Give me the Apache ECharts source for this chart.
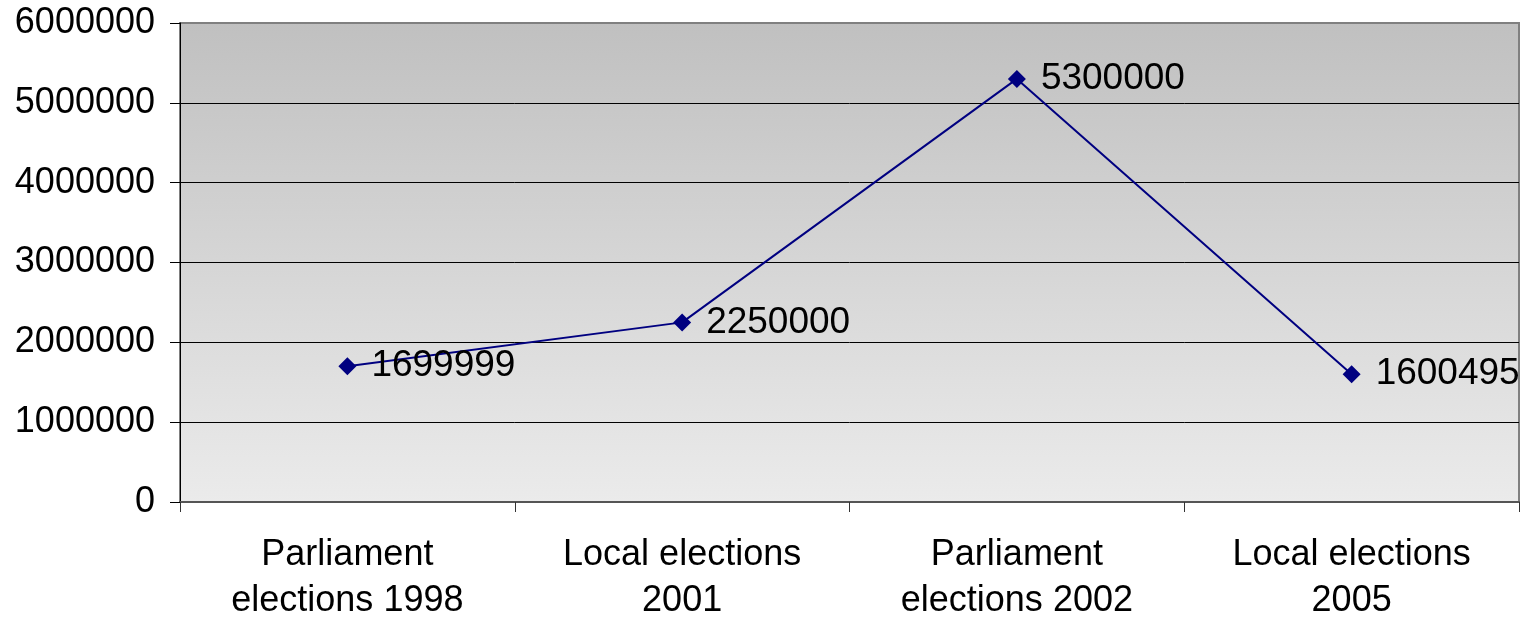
<!DOCTYPE html>
<html>
<head>
<meta charset="utf-8">
<script src="https://cdn.jsdelivr.net/npm/echarts@6/dist/echarts.min.js"></script>
<style>
  html, body { margin: 0; padding: 0; background: #fff; }
  #chart { width: 1537px; height: 621px; }
</style>
</head>
<body>
<div id="chart"></div>
<script>
const categories = ['Parliament\nelections 1998', 'Local elections\n2001', 'Parliament\nelections 2002', 'Local elections\n2005']
const votes = [1699999, 2250000, 5300000, 1600495]

const chart = echarts.init(document.getElementById('chart'))
const font = 'Liberation Sans, Arial, sans-serif'

chart.setOption({
  animation: false,
  grid: {
    left: 180,
    right: 18,
    top: 23,
    bottom: 119,
    outerBoundsMode: 'none',
    containLabel: false,
    show: true,
    borderColor: '#808080',
    borderWidth: 2,
    backgroundColor: new echarts.graphic.LinearGradient(0, 0, 0, 1, [
      { offset: 0, color: '#c0c0c0' },
      { offset: 1, color: '#ebebeb' }
    ])
  },
  xAxis: {
    type: 'category',
    data: categories,
    boundaryGap: true,
    axisLine: { lineStyle: { color: '#555', width: 2 } },
    axisTick: { show: true, length: 10, lineStyle: { color: '#333' } },
    axisLabel: {
      color: '#000',
      fontSize: 36,
      fontFamily: font,
      lineHeight: 46,
      margin: 30,
      interval: 0
    }
  },
  yAxis: {
    type: 'value',
    min: 0,
    max: 6000000,
    interval: 1000000,
    axisLine: { show: true, lineStyle: { color: '#000', width: 1 } },
    axisTick: { show: true, length: 10, lineStyle: { color: '#000' } },
    axisLabel: {
      color: '#000',
      fontSize: 36,
      fontFamily: font,
      margin: 25,
      formatter: v => String(v)
    },
    splitLine: {
      show: true,
      lineStyle: { color: ['#555', '#000', '#000', '#000', '#000', '#000', '#808080'], width: 1 }
    }
  },
  series: [
    {
      type: 'line',
      data: votes,
      symbol: 'diamond',
      symbolSize: 18,
      itemStyle: { color: '#000080' },
      lineStyle: { color: '#000080', width: 2 },
      label: {
        show: true,
        position: 'right',
        distance: 15,
        color: '#000',
        fontSize: 37,
        fontFamily: font
      }
    }
  ]
})
</script>
</body>
</html>
